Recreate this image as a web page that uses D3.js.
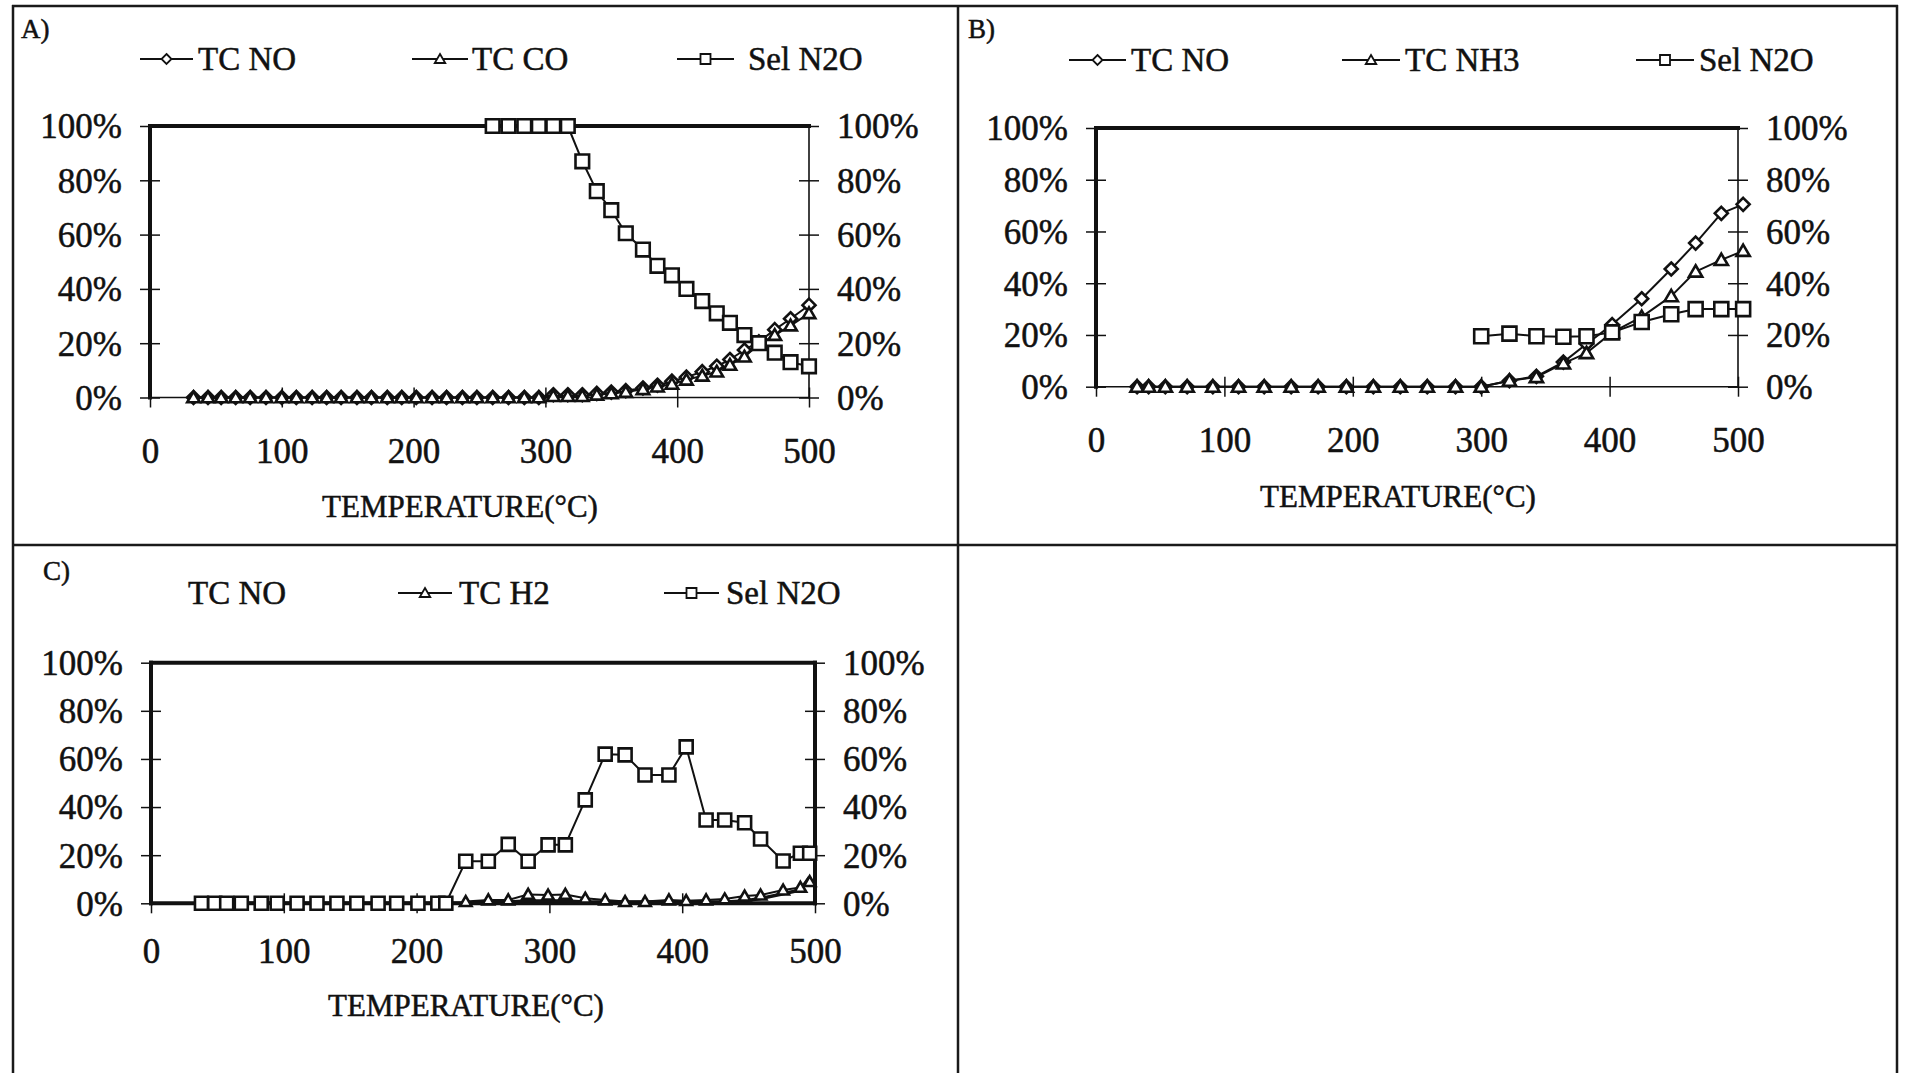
<!DOCTYPE html>
<html>
<head>
<meta charset="utf-8">
<script src="https://cdn.jsdelivr.net/npm/d3@7"></script>
<style>
  html, body { margin: 0; padding: 0; background: #fff; }
  svg { display: block; }
  text { font-family: "Liberation Serif", "Times New Roman", serif; fill: #111; stroke: #111; stroke-width: 0.5px; }
</style>
</head>
<body>
<svg id="chart" width="1907" height="1073"></svg>
<script>
// ---- shared axis ticks ----
const xTicks = [0, 100, 200, 300, 400, 500];          // temperature, °C
const yTicks = [0, 20, 40, 60, 80, 100];              // percent
const axisTitle = "TEMPERATURE(°C)";

// ---- A) NO + CO ----
const tempA = [33, 44, 54, 65, 76, 88, 100, 111, 123, 134, 145, 157, 168, 180, 191, 202, 214, 225, 237, 248,
               260, 272, 284, 295, 306, 317, 328, 339, 350, 361, 374, 385, 396, 407, 419, 430, 440, 451, 462, 474,
               486, 500];
const tcNoA = [0, 0, 0, 0, 0, 0, 0, 0, 0, 0, 0, 0, 0, 0, 0, 0, 0, 0, 0, 0,
               0, 0, 0, 0, 1, 1, 1, 1.5, 2, 2.5, 3.5, 4.5, 6, 7.5, 9.5, 11.5, 14, 17.5, 20.5, 25,
               29, 34];
const tcCoA = [0, 0, 0, 0, 0, 0, 0, 0, 0, 0, 0, 0, 0, 0, 0, 0, 0, 0, 0, 0,
               0, 0, 0, 0, 0.5, 0.5, 0.5, 1, 1.5, 2, 3, 4, 5, 6.5, 8, 9.5, 12, 15, 19.5, 23,
               26.5, 31];
const selN2oA = [null, null, null, null, null, null, null, null, null, null, null, null, null, null, null, null, null, null, null, null,
                 100, 100, 100, 100, 100, 100, 87, 76, 69, 60.5, 54.5, 48.5, 45, 40, 35.5, 31, 27.5, 23, 20, 16.5,
                 13, 11.5];

// ---- B) NO + NH3 ----
const tempB = [32, 41, 54, 71, 91, 111, 131, 152, 173, 195, 216, 237, 258, 280, 300,
               322, 343, 364, 382, 402, 425, 448, 467, 487, 504];
const tcNoB = [0, 0, 0, 0, 0, 0, 0, 0, 0, 0, 0, 0, 0, 0, 0,
               2.3, 4, 9.5, 16.5, 24, 34, 45.5, 55.5, 67, 70.5];
const tcNh3B = [0, 0, 0, 0, 0, 0, 0, 0, 0, 0, 0, 0, 0, 0, 0,
                2.3, 3.7, 9, 13, 21, 27, 35, 44.5, 49, 52.5];
const selN2oB = [null, null, null, null, null, null, null, null, null, null, null, null, null, null, 19.5,
                 20.5, 19.5, 19.3, 19.5, 21, 25, 28, 30, 30, 30];

// ---- C) NO + H2 ----
const tempC = [38, 48, 57, 68, 83, 95, 110, 125, 140, 155, 171, 185, 201, 216, 222,
               237, 254, 269, 284, 299, 312, 327, 342, 357, 372, 390, 403, 418, 432, 447, 459, 476, 489, 496];
const tcNoC = [0, 0, 0, 0, 0, 0, 0, 0, 0, 0, 0, 0, 0, 0, 0,
               0, 0.5, 0.5, 1, 1, 1, 0.5, 0.5, 0.5, 0.5, 0.5, 0.5, 0.5, 0.5, 1, 2, 4, 5.5, 11];
const tcH2C = [null, null, null, null, null, null, null, null, null, null, null, null, null, null, null,
               0.7, 1.4, 1.4, 3.7, 3.4, 3.7, 2.1, 1.4, 0.7, 0.7, 1.4, 1.1, 1.4, 1.8, 3, 3.4, 5.5, 6.6, 9];
const selN2oC = [0, 0, 0, 0, 0, 0, 0, 0, 0, 0, 0, 0, 0, 0, 0,
                 17.5, 17.5, 24.5, 17.5, 24.3, 24.3, 43, 62, 61.7, 53.3, 53.3, 65, 34.6, 34.6, 33.5, 26.7, 17.6, 20.8, 20.8];

// ---- marker shapes ----
const shapes = {
  diamond: s => `M0,${-s}L${s},0L0,${s}L${-s},0Z`,
  triangle: s => `M0,${-s}L${s * 1.05},${s * 0.8}L${-s * 1.05},${s * 0.8}Z`,
  square: s => `M${-s},${-s}H${s}V${s}H${-s}Z`
};

const svg = d3.select("#chart");

// ---- table frame ----
const frame = svg.append("g").attr("stroke", "#1a1a1a").attr("stroke-width", 2.5);
frame.append("line").attr("x1", 13).attr("x2", 13).attr("y1", 5).attr("y2", 1073);
frame.append("line").attr("x1", 958).attr("x2", 958).attr("y1", 5).attr("y2", 1073);
frame.append("line").attr("x1", 1897).attr("x2", 1897).attr("y1", 5).attr("y2", 1073);
frame.append("line").attr("x1", 12).attr("x2", 1898).attr("y1", 6).attr("y2", 6);
frame.append("line").attr("x1", 12).attr("x2", 1898).attr("y1", 545).attr("y2", 545);

function drawPanel(p) {
  const g = svg.append("g");
  const x = d3.scaleLinear().domain([0, 500]).range([p.left, p.right]);
  const y = d3.scaleLinear().domain([0, 100]).range([p.bottom, p.top]);

  // panel letter
  g.append("text").attr("x", p.tag[1]).attr("y", p.tag[2])
    .style("font-size", "27px").text(p.tag[0]);

  // bottom axis with crossing ticks
  const xa = g.append("g").attr("transform", `translate(0,${p.bottom})`)
    .call(d3.axisBottom(x).tickValues(xTicks).tickSize(10).tickFormat(d3.format("d")));
  xa.select(".domain").remove();
  xa.selectAll(".tick line").attr("y1", -10).attr("y2", 10).attr("stroke", "#111").attr("stroke-width", 1.5);
  xa.selectAll(".tick text").attr("y", p.xLabelY - p.bottom).attr("dy", null)
    .style("font-size", "35px").style("font-family", "Liberation Serif").attr("fill", "#111");

  // left and right percent axes
  const fmt = d => d + "%";
  const la = g.append("g").attr("transform", `translate(${p.left},0)`)
    .call(d3.axisLeft(y).tickValues(yTicks).tickSize(10).tickPadding(18).tickFormat(fmt));
  const ra = g.append("g").attr("transform", `translate(${p.right},0)`)
    .call(d3.axisRight(y).tickValues(yTicks).tickSize(10).tickPadding(18).tickFormat(fmt));
  [la, ra].forEach(a => {
    a.select(".domain").remove();
    a.selectAll(".tick line").attr("x1", -10).attr("x2", 10).attr("stroke", "#111").attr("stroke-width", 1.5);
    a.selectAll(".tick text").style("font-size", "35px").style("font-family", "Liberation Serif")
      .attr("fill", "#111").attr("dy", "0.34em");
  });

  // plot-area border, each side with its own weight
  const b = p.border;
  const sides = [
    [p.left, p.top, p.right, p.top, b.top],
    [p.left, p.bottom, p.right, p.bottom, b.bottom],
    [p.left, p.top, p.left, p.bottom, b.left],
    [p.right, p.top, p.right, p.bottom, b.right]
  ];
  g.append("g").selectAll("line").data(sides).join("line")
    .attr("x1", d => d[0]).attr("y1", d => d[1]).attr("x2", d => d[2]).attr("y2", d => d[3])
    .attr("stroke", "#111").attr("stroke-width", d => d[4]).attr("stroke-linecap", "square");

  // series
  p.series.forEach(s => {
    const pts = p.temps.map((t, i) => ({ t, v: s.values[i] })).filter(d => d.v != null);
    const line = d3.line().x(d => x(d.t)).y(d => y(d.v));
    g.append("path").attr("d", line(pts)).attr("fill", "none")
      .attr("stroke", "#111").attr("stroke-width", s.width || 2).attr("stroke-linejoin", "round");
    if (s.shape) {
      g.append("g").selectAll("path").data(pts).join("path")
        .attr("transform", d => `translate(${x(d.t)},${y(d.v)})`)
        .attr("d", shapes[s.shape](s.size))
        .attr("fill", "#fff").attr("stroke", "#111").attr("stroke-width", 2.6);
    }
  });

  // legend
  p.legend.forEach(l => {
    if (l.line) {
      g.append("line").attr("x1", l.line[0]).attr("x2", l.line[1]).attr("y1", p.legendY).attr("y2", p.legendY)
        .attr("stroke", "#111").attr("stroke-width", 1.8);
      g.append("path").attr("transform", `translate(${(l.line[0] + l.line[1]) / 2},${p.legendY})`)
        .attr("d", shapes[l.shape](5))
        .attr("fill", "#fff").attr("stroke", "#111").attr("stroke-width", 1.8);
    }
    g.append("text").attr("x", l.tx).attr("y", p.legendY + 11)
      .style("font-size", "33px").text(l.name);
  });

  // axis title
  g.append("text").attr("x", p.titleX).attr("y", p.titleY).attr("text-anchor", "middle")
    .style("font-size", "31px").text(axisTitle);
}

drawPanel({
  tag: ["A)", 21, 38],
  left: 150, right: 809, top: 126, bottom: 397.5,
  xLabelY: 463, titleX: 460, titleY: 517, legendY: 59,
  border: { top: 4, left: 4, right: 1.6, bottom: 1.6 },
  temps: tempA,
  series: [
    { values: tcNoA, shape: "diamond", size: 6.5 },
    { values: tcCoA, shape: "triangle", size: 6 },
    { values: selN2oA, shape: "square", size: 6.8 }
  ],
  legend: [
    { name: "TC NO", shape: "diamond", line: [140, 193], tx: 198 },
    { name: "TC CO", shape: "triangle", line: [412, 468], tx: 472 },
    { name: "Sel N2O", shape: "square", line: [677, 734], tx: 748 }
  ]
});

drawPanel({
  tag: ["B)", 968, 38],
  left: 1096, right: 1738, top: 128, bottom: 386.7,
  xLabelY: 452, titleX: 1398, titleY: 507, legendY: 60,
  border: { top: 4, left: 4, right: 1.6, bottom: 1.6 },
  temps: tempB,
  series: [
    { values: tcNoB, shape: "diamond", size: 6.5 },
    { values: tcNh3B, shape: "triangle", size: 6.3 },
    { values: selN2oB, shape: "square", size: 7 }
  ],
  legend: [
    { name: "TC NO", shape: "diamond", line: [1069, 1126], tx: 1131 },
    { name: "TC NH3", shape: "triangle", line: [1342, 1400], tx: 1405 },
    { name: "Sel N2O", shape: "square", line: [1636, 1694], tx: 1699 }
  ]
});

drawPanel({
  tag: ["C)", 43, 580],
  left: 151, right: 815, top: 662.7, bottom: 903.3,
  xLabelY: 963, titleX: 466, titleY: 1016, legendY: 593,
  border: { top: 4, left: 4, right: 4, bottom: 4 },
  temps: tempC,
  series: [
    { values: tcNoC, shape: null, width: 3.5 },
    { values: tcH2C, shape: "triangle", size: 5.5 },
    { values: selN2oC, shape: "square", size: 6.5 }
  ],
  legend: [
    { name: "TC NO", tx: 188 },
    { name: "TC H2", shape: "triangle", line: [398, 452], tx: 459 },
    { name: "Sel N2O", shape: "square", line: [664, 719], tx: 726 }
  ]
});
</script>
</body>
</html>
